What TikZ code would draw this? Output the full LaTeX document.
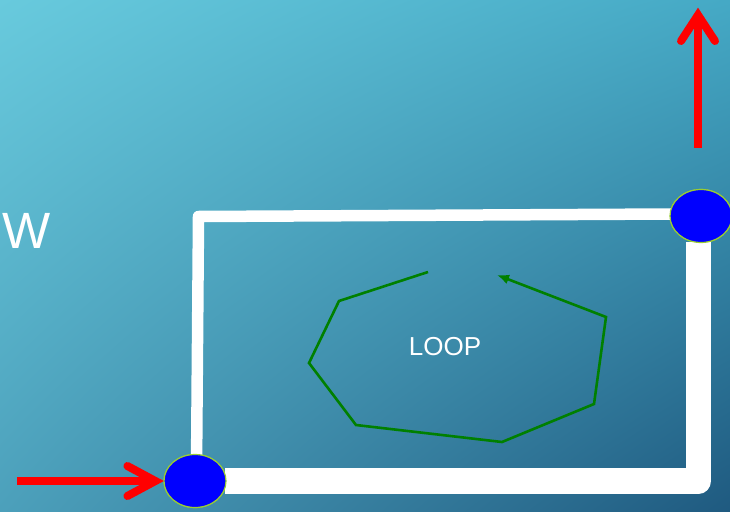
\documentclass[tikz,border=0pt]{standalone}
\usepackage{fontspec}
\setmainfont{Liberation Sans}
\usetikzlibrary{arrows.meta}
\usetikzlibrary{shapes.geometric}
\usetikzlibrary{shadings}

\definecolor{skyTL}{HTML}{68CADD}
\definecolor{skyTR}{HTML}{45A9C5}
\definecolor{skyBL}{HTML}{4CA0BB}
\definecolor{skyBR}{HTML}{1F5A80}
\definecolor{jointrim}{HTML}{9ACD32}
\definecolor{loopgreen}{HTML}{008000}

\tikzset{
	wire/.style={draw=white, line join=round},
	joint/.style={ellipse, fill=blue, draw=jointrim, line width=1.2pt,
		minimum width=62pt, minimum height=53pt, inner sep=0pt},
	redline/.style={draw=red, line width=8pt},
	redhead/.style={draw=red, line width=8pt, line cap=round, line join=miter},
	loopline/.style={draw=loopgreen, line width=2.6pt},
	label text/.style={text=white, inner sep=0pt}
}

\begin{document}
\begin{tikzpicture}[x=1pt,y=-1pt]
	%Background
	\useasboundingbox (0,0) rectangle (730,511);
	\shade [upper left=skyTL, upper right=skyTR, lower left=skyBL, lower right=skyBR]
	(0,0) rectangle (730,511);

	%Connection points
	\node [joint] (inlet) at (195,481) {};
	\node [joint] (outlet) at (701,216) {};

	%Circuit: thin side and thick side
	\draw [wire, line width=11.5pt] (196.5,470) -- (198.5,216.5) -- (672,214);
	\draw [wire, line width=25.5pt] (698.5,242) -- (698.5,481) -- (225,481);

	%Redraw the points on top of the wires
	\node [joint] at (inlet) {};
	\node [joint] at (outlet) {};

	%Current in
	\coordinate (feed) at (17,481);
	\coordinate (inTip) at ([xshift=-8pt]inlet.west);
	\draw [redline] (feed) -- (inTip);
	\draw [redhead] (inTip) ++(-28,-15) -- (inTip) -- ++(-28,15);

	%Current out
	\coordinate (drain) at (698,148);
	\coordinate (outTip) at (698,15);
	\draw [redline] (drain) -- (outTip);
	\draw [redhead] (outTip) ++(-17,26) -- (outTip) -- ++(17,26);

	%Loop arrow
	\draw [loopline, -{Latex[length=12pt,width=10pt]}] (428,272) -- (339,301) -- (309,363)
	-- (356,425) -- (502,442) -- (594,404) -- (606,317) -- (497,275);
	\node [label text, font=\fontsize{26}{30}\selectfont] (loop) at (445,347) {LOOP};

	%Label W
	\node [label text, font=\fontsize{51}{56}\selectfont] (w) at (27,231) {W};
\end{tikzpicture}
\end{document}
